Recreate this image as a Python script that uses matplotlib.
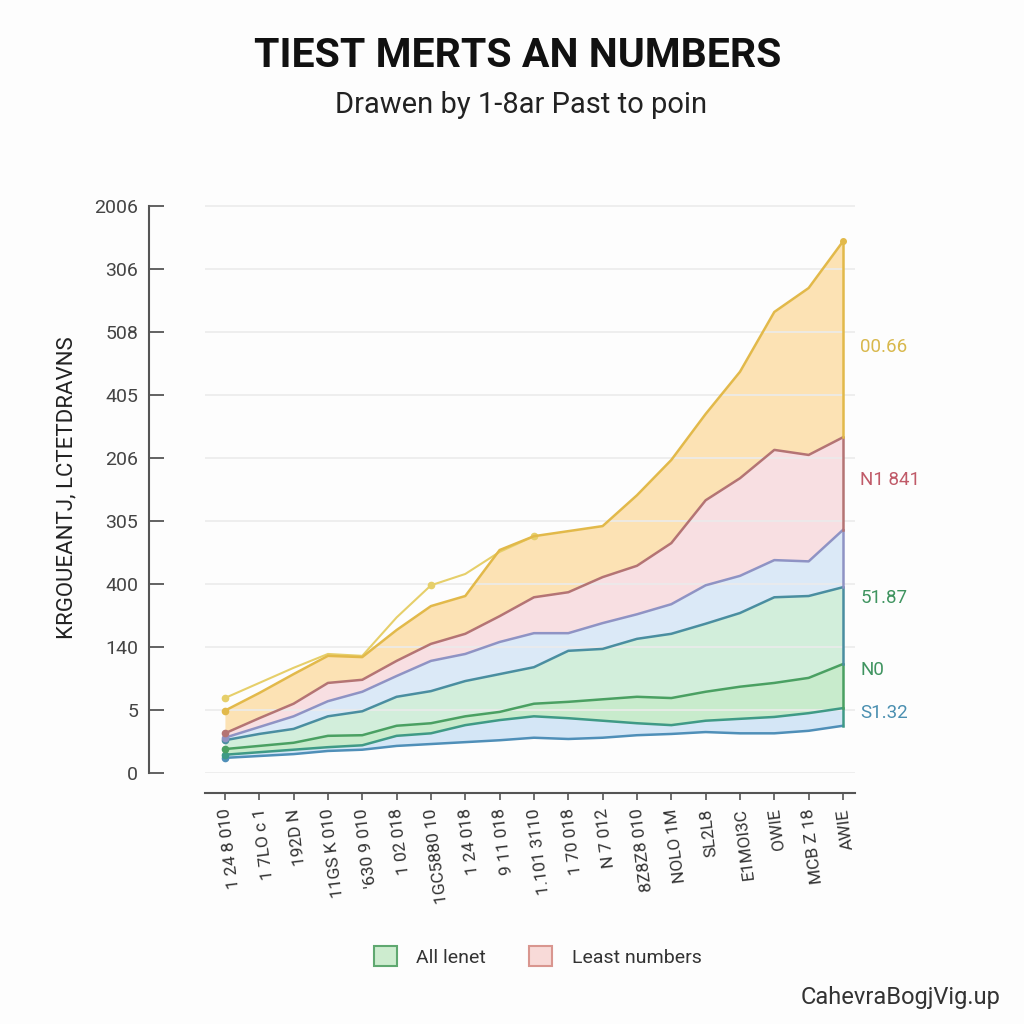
import numpy as np
import matplotlib; matplotlib.use("Agg")
import matplotlib.pyplot as plt
from matplotlib.patches import Patch

plt.rcParams.update({
    "font.family": ["Roboto", "DejaVu Sans"],
    "axes.linewidth": 1.5, "axes.edgecolor": "#555555",
    "xtick.color": "#555555", "ytick.color": "#555555",
})

# ---- data (stacked boundary lines, bottom -> top) ----
x = np.arange(19)
xlabels = ["1 24 8 010", "1 7LO c 1", "192D N", "11GS K 010", "'630 9 010",
           "1 02 018", "1GC5880 10", "1 24 018", "9 11 018", "1.101 3110",
           "1 70 018", "N 7 012", "8Z8Z8 010", "NOLO 1M", "SL2L8",
           "E1MOI3C", "OWIE", "MCB Z 18", "AWIE"]
ytick_labels = ["0", "5", "140", "400", "305", "206", "405", "508", "306", "2006"]

line1 = [0.24, 0.27, 0.30, 0.35, 0.37, 0.43, 0.46, 0.49, 0.52, 0.56,
         0.54, 0.56, 0.60, 0.62, 0.65, 0.63, 0.63, 0.67, 0.75]
line2 = [0.29, 0.33, 0.37, 0.41, 0.44, 0.59, 0.63, 0.76, 0.84, 0.90,
         0.87, 0.83, 0.79, 0.76, 0.83, 0.86, 0.89, 0.95, 1.03]
line3 = [0.38, 0.43, 0.48, 0.59, 0.60, 0.75, 0.79, 0.90, 0.97, 1.10,
         1.13, 1.17, 1.21, 1.19, 1.29, 1.37, 1.43, 1.51, 1.73]
line4 = [0.52, 0.62, 0.70, 0.90, 0.98, 1.21, 1.30, 1.46, 1.57, 1.68,
         1.94, 1.97, 2.13, 2.21, 2.37, 2.54, 2.79, 2.81, 2.95]
line5 = [0.56, 0.73, 0.90, 1.14, 1.29, 1.54, 1.78, 1.89, 2.08, 2.22,
         2.22, 2.38, 2.52, 2.68, 2.98, 3.13, 3.38, 3.36, 3.86]
line6 = [0.63, 0.87, 1.10, 1.43, 1.48, 1.78, 2.05, 2.21, 2.49, 2.79,
         2.87, 3.11, 3.29, 3.65, 4.33, 4.68, 5.13, 5.05, 5.33]
line7 = [0.99, 1.27, 1.57, 1.86, 1.84, 2.27, 2.65, 2.81, 3.54, 3.76,
         3.84, 3.92, 4.41, 4.97, 5.70, 6.37, 7.32, 7.70, 8.44]
past = [1.19, 1.43, 1.67, 1.89, 1.86, 2.47, 2.98, 3.16, 3.51, 3.76]

end_labels = ["00.66", "N1 841", "51.87", "N0", "S1.32"]
end_label_y = [6.76, 4.65, 2.78, 1.63, 0.95]
legend_labels = ["All lenet", "Least numbers"]

LINES = [line1, line2, line3, line4, line5, line6, line7]
LCOL = ["#4f8fb8", "#3f9a86", "#4aa062", "#4a8ea0", "#8f93c4", "#b47474", "#e2b94a"]
FILL = ["#d4e6f6", "#c8ebcc", "#d2eedb", "#dbe9f7", "#f8dfe2", "#fce2b4"]
LAB_COL = ["#d8b84c", "#c05a68", "#3f9460", "#3f9460", "#4a8fb0"]

fig = plt.figure(figsize=(10.24, 10.24), dpi=100, facecolor="#fdfdfd")
ax = fig.add_axes([205 / 1024, 1 - 773 / 1024, 650 / 1024, 570 / 1024])
ax.set_facecolor("#fdfdfd")

for i in range(len(FILL)):
    ax.fill_between(x, LINES[i], LINES[i + 1], color=FILL[i], lw=0, zorder=1)
for ln, c in zip(LINES, LCOL):
    ax.plot(x, ln, color=c, lw=1.8, zorder=3, marker="o", ms=4.5, markevery=[0])
ax.plot(x[:len(past)], past, color="#e6cf6a", lw=1.5, zorder=2,
        marker="o", ms=4.5, markevery=[0, 6, 9])
ax.plot(x[-1], line7[-1], "o", color=LCOL[-1], ms=4, zorder=4)
# right edge segments
for i in range(len(LINES) - 1):
    ax.plot([x[-1], x[-1]], [LINES[i][-1], LINES[i + 1][-1]],
            color=LCOL[i + 1], lw=1.8, zorder=3)

for t, yv, c in zip(end_labels, end_label_y, LAB_COL):
    ax.text(18.5, yv, t, color=c, fontsize=13.5, va="center", ha="left")

ax.set_xlim(-0.58, 18.35)
ax.set_ylim(0, 9.05)
ax.set_yticks(range(len(ytick_labels)))
ax.set_yticklabels(ytick_labels)
ax.yaxis.grid(True, color="#ebebeb", lw=1.2, zorder=0)
ax.tick_params(axis="y", direction="in", length=11, width=1.3, pad=8,
               labelsize=14, labelcolor="#444444")
ax.spines["left"].set_position(("outward", 40))
ax.spines["left"].set_bounds(0, 9)
ax.spines["bottom"].set_position(("outward", 14.5))
ax.spines[["top", "right"]].set_visible(False)

ax.set_xticks(x)
ax.set_xticklabels(xlabels, rotation=97, ha="right", va="center",
                   rotation_mode="anchor")
ax.tick_params(axis="x", direction="out", length=5, width=1.2, pad=6,
               labelsize=12.5, labelcolor="#333333")

ax.set_ylabel("KRGOUEANTJ, LCTETDRAVNS", fontsize=16, color="#222222", labelpad=12)

fig.text(0.506, 0.945, "TIEST MERTS AN NUMBERS", fontsize=29.5, fontweight="bold",
         ha="center", va="center", color="#111111")
fig.text(0.509, 0.897, "Drawen by 1-8ar Past to poin", fontsize=21,
         ha="center", va="center", color="#222222")

handles = [Patch(facecolor="#cdeccf", edgecolor="#5fa870", lw=1.5),
           Patch(facecolor="#f8dad8", edgecolor="#d9968f", lw=1.5)]
fig.legend(handles, legend_labels, loc="center", bbox_to_anchor=(0.525, 0.066),
           ncol=2, frameon=False, fontsize=14, columnspacing=2.2,
           handlelength=1.2, handleheight=1.2, handletextpad=1.0,
           labelcolor="#333333")

fig.text(0.977, 0.026, "CahevraBogjVig.up", fontsize=17, ha="right", va="center",
         color="#333333")

fig.savefig("out.png", dpi=100, facecolor=fig.get_facecolor())
